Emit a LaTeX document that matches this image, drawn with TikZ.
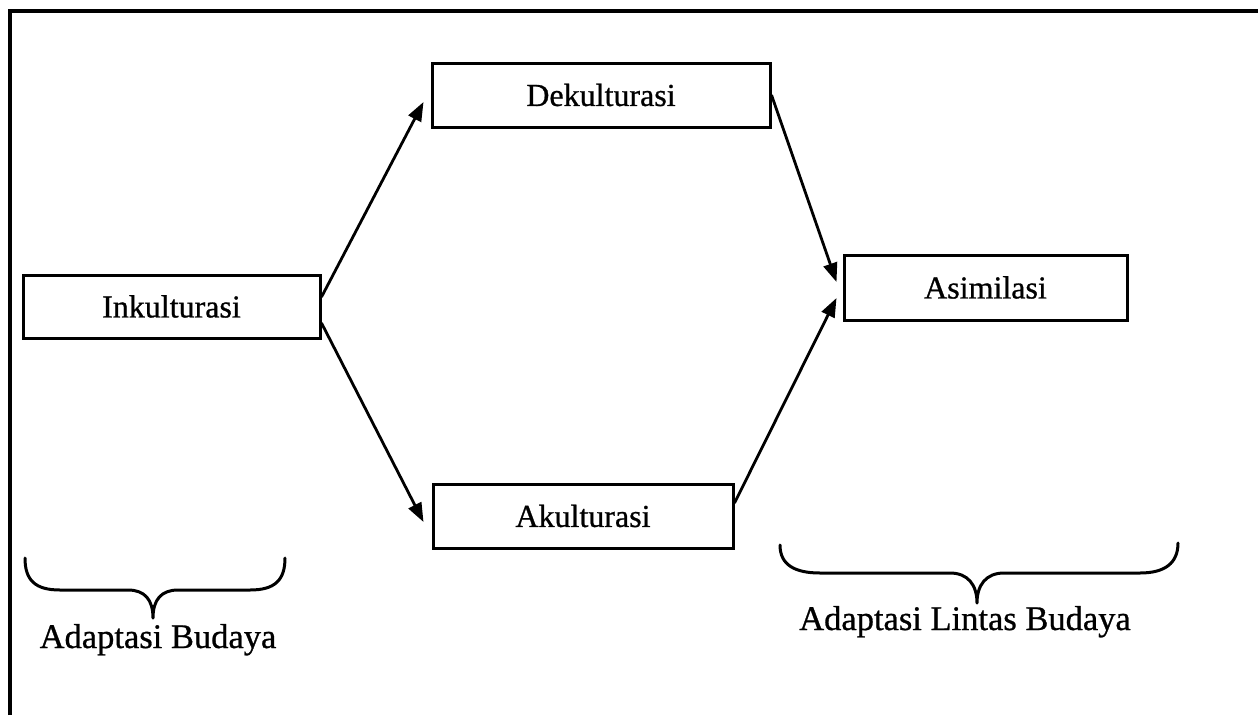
\documentclass[tikz,border=0pt]{standalone}
\usepackage{fontspec}
\setmainfont{Liberation Serif}[BoldFont=Liberation Serif,BoldFeatures={FakeBold=0.8}]
\usetikzlibrary{arrows.meta}
\begin{document}
\begin{tikzpicture}[x=1pt,y=-1pt,
  stagebox/.style={draw,line width=3pt,inner sep=0pt,font=\fontsize{32}{38}\selectfont\bfseries},
  arr/.style={line width=2.8pt,-{Triangle[length=19pt,width=14pt]}},
  bracepath/.style={line width=3pt,line cap=round,line join=round},
  lbl/.style={anchor=base,inner sep=0pt,font=\fontsize{34.5}{40}\selectfont\bfseries}]
\useasboundingbox (0,0) rectangle (1258,715);
% frame (top and left edges)
\draw[line width=4pt] (10,715) -- (10,11) -- (1258,11);
% boxes
\node[stagebox,minimum width=338pt,minimum height=64pt] (dek) at (601,95) {Dekulturasi};
\node[stagebox,minimum width=297pt,minimum height=63pt] (ink) at (171.5,306.5) {Inkulturasi};
\node[stagebox,minimum width=283pt,minimum height=65pt] (asi) at (985.5,287.5) {Asimilasi};
\node[stagebox,minimum width=300pt,minimum height=64pt] (ak) at (583,516) {Akulturasi};
% arrows
\draw[arr] ([yshift=9.5pt]ink.east) -- ([xshift=-7pt,yshift=-7pt]dek.west);
\draw[arr] ([yshift=-16.5pt]ink.east) -- ([xshift=-8pt,yshift=-6pt]ak.west);
\draw[arr] (dek.east) -- ([xshift=-6pt,yshift=5.5pt]asi.west);
\draw[arr] ([yshift=13pt]ak.east) -- ([xshift=-6pt,yshift=-10.5pt]asi.west);
% braces
\draw[bracepath] (25,558) .. controls (25,580) and (35,590) .. (60,590) -- (128,590)
  .. controls (145,590) and (153,600) .. (153,618)
  .. controls (153,600) and (161,590) .. (178,590) -- (250,590)
  .. controls (275,590) and (285,580) .. (285,558);
\draw[bracepath] (780,545) .. controls (780,565) and (795,573) .. (820,573) -- (950,573)
  .. controls (968,573) and (977,585) .. (977,603)
  .. controls (977,585) and (986,573) .. (1004,573) -- (1140,573)
  .. controls (1165,573) and (1178,563) .. (1178,543);
% labels
\node[lbl] (lab1) at (158,648) {Adaptasi Budaya};
\node[lbl] (lab2) at (965,630) {Adaptasi Lintas Budaya};
\end{tikzpicture}
\end{document}
